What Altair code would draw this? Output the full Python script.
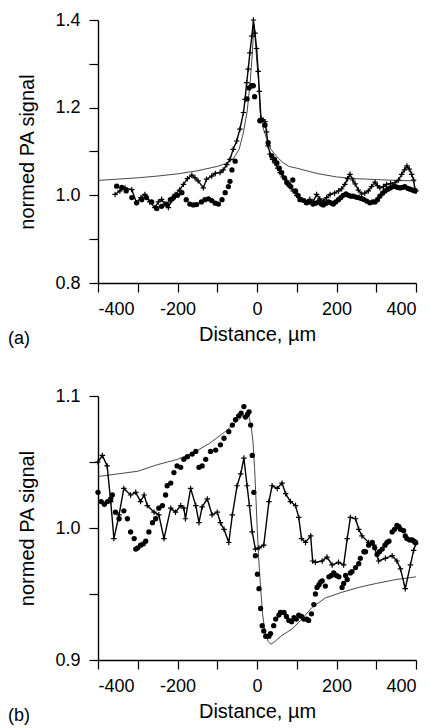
import altair as alt
import pandas as pd

# ---------------- Panel (a) ----------------
a_fit_x = [-400, -350, -300, -250, -200, -150, -100, -80, -60, -45,
           -35, -25, -18, -12, -8, -4, 0, 4, 8, 15,
           24, 35, 50, 65, 80, 100, 150, 200, 250, 300,
           350, 400]
a_fit_y = [1.034, 1.037, 1.040, 1.044, 1.049, 1.056, 1.066, 1.072, 1.083, 1.105,
           1.140, 1.190, 1.250, 1.320, 1.390, 1.350, 1.300, 1.260, 1.190, 1.155,
           1.130, 1.105, 1.088, 1.075, 1.066, 1.062, 1.050, 1.042, 1.038, 1.036,
           1.034, 1.033]

a_cross_x = [-357, -345, -332, -315, -303, -292, -282, -270, -257, -248,
             -240, -232, -223, -215, -206, -195, -185, -175, -164, -156,
             -148, -135, -127, -114, -105, -93, -85, -76, -68, -60,
             -51, -43, -34, -30, -26, -22, -18, -13, -9, -5,
             -1, 3, 6, 10, 15, 20, 24, 28, 33, 39,
             45, 52, 58, 66, 75, 83, 91, 100, 108, 120,
             133, 141, 150, 158, 167, 175, 184, 195, 205, 213,
             221, 228, 234, 241, 247, 255, 263, 271, 280, 288,
             297, 303, 309, 318, 326, 336, 347, 356, 364, 371,
             377, 383, 389, 394, 397, 400]
a_cross_y = [1.002, 1.010, 1.017, 1.013, 0.983, 0.995, 1.002, 0.985, 0.972, 0.985,
             0.991, 0.980, 0.972, 0.988, 1.002, 1.012, 1.025, 1.038, 1.046, 1.040,
             1.033, 1.017, 1.037, 1.044, 1.050, 1.052, 1.058, 1.070, 1.082, 1.105,
             1.124, 1.151, 1.189, 1.219, 1.257, 1.288, 1.325, 1.363, 1.400, 1.370,
             1.335, 1.283, 1.237, 1.175, 1.172, 1.168, 1.145, 1.113, 1.094, 1.082,
             1.074, 1.062, 1.052, 1.042, 1.033, 1.020, 1.010, 1.000, 0.995, 0.985,
             0.991, 0.985, 1.002, 0.992, 0.987, 0.995, 1.002, 1.005, 1.010, 1.015,
             1.025, 1.038, 1.048, 1.035, 1.026, 1.012, 1.003, 1.005, 1.010, 1.020,
             1.030, 1.022, 1.017, 1.020, 1.025, 1.027, 1.029, 1.035, 1.048, 1.058,
             1.067, 1.060, 1.048, 1.035, 1.014, 1.010]

a_dot_x = [-353, -340, -329, -315, -303, -290, -278, -265, -252, -240,
           -227, -218, -210, -200, -189, -178, -169, -160, -152, -140,
           -131, -122, -114, -105, -97, -88, -80, -72, -68, -63,
           -55, -25, -20, -14, -9, -6, 7, 20, 28, 37,
           44, 50, 56, 62, 69, 75, 80, 85, 90, 97,
           103, 108, 118, 125, 133, 141, 148, 155, 162, 167,
           174, 180, 186, 192, 198, 205, 211, 217, 224, 230,
           236, 242, 249, 255, 262, 268, 276, 284, 291, 297,
           303, 309, 316, 322, 329, 335, 342, 348, 354, 360,
           366, 372, 379, 385, 391, 397]
a_dot_y = [1.021, 1.018, 1.010, 0.995, 0.983, 0.990, 0.995, 0.985, 0.970, 0.975,
           0.980, 0.990, 0.995, 1.000, 1.006, 0.990, 0.980, 0.978, 0.979, 0.985,
           0.990, 0.992, 0.988, 0.982, 0.980, 0.990, 1.006, 1.020, 1.032, 1.058,
           1.078, 1.220, 1.245, 1.250, 1.250, 1.225, 1.170, 1.160, 1.120, 1.090,
           1.082, 1.074, 1.062, 1.052, 1.040, 1.029, 1.025, 1.020, 1.035, 1.010,
           1.000, 0.990, 0.988, 0.983, 0.985, 0.980, 0.982, 0.985, 0.980, 0.978,
           0.982, 0.985, 0.983, 0.980, 0.985, 0.990, 0.995, 1.000, 1.003, 1.000,
           0.998, 0.998, 0.996, 0.995, 0.993, 0.991, 0.987, 0.983, 0.985, 0.985,
           0.990, 0.998, 1.005, 1.010, 1.014, 1.017, 1.020, 1.020, 1.018, 1.017,
           1.018, 1.020, 1.016, 1.014, 1.012, 1.010]

# ---------------- Panel (b) ----------------
b_fit_x = [-400, -350, -300, -250, -200, -160, -120, -80, -50, -35,
           -22, -15, -10, -6, -3, 0, 4, 9, 14, 20,
           28, 35, 45, 60, 88, 110, 139, 172, 210, 256,
           300, 350, 400]
b_fit_y = [1.039, 1.041, 1.043, 1.048, 1.052, 1.057, 1.064, 1.073, 1.081, 1.085,
           1.086, 1.078, 1.065, 1.045, 1.025, 1.003, 0.978, 0.955, 0.935, 0.921,
           0.914, 0.912, 0.914, 0.918, 0.9235, 0.930, 0.940, 0.947, 0.951, 0.955,
           0.958, 0.961, 0.963]

b_cross_x = [-400, -389, -377, -368, -360, -347, -335, -318, -305, -293,
             -284, -276, -259, -247, -234, -217, -205, -192, -184, -180,
             -167, -154, -146, -138, -125, -113, -100, -92, -83, -71,
             -62, -50, -41, -33, -25, -19, -12, -4, 5, 17,
             30, 38, 51, 63, 72, 84, 97, 105, 112, 122,
             135, 140, 147, 164, 176, 189, 205, 218, 227, 235,
             248, 256, 264, 281, 294, 306, 323, 340, 352, 361,
             373, 386, 394, 399]
b_cross_y = [1.050, 1.055, 1.047, 1.020, 0.992, 1.010, 1.030, 1.025, 1.027, 1.020,
             1.025, 1.017, 1.012, 1.010, 0.992, 1.015, 1.012, 1.017, 1.015, 1.007,
             1.030, 1.017, 1.004, 1.016, 1.022, 1.010, 1.012, 1.004, 0.999, 0.989,
             1.010, 1.032, 1.041, 1.053, 1.032, 1.017, 0.997, 0.984, 0.985, 0.987,
             1.020, 1.032, 1.030, 1.034, 1.026, 1.020, 1.017, 1.008, 0.992, 0.989,
             0.994, 0.975, 0.974, 0.975, 0.978, 0.972, 0.974, 0.972, 0.992, 1.008,
             1.007, 0.999, 0.994, 0.989, 0.987, 0.975, 0.977, 0.979, 0.975, 0.969,
             0.954, 0.972, 0.983, 0.988]

b_dot_x = [-400, -392, -384, -376, -368, -364, -356, -347, -335, -326,
           -318, -309, -305, -300, -293, -286, -280, -272, -263, -255,
           -247, -238, -230, -226, -217, -209, -201, -192, -184, -175,
           -163, -154, -146, -138, -129, -117, -104, -92, -83, -71,
           -62, -54, -46, -40, -33, -29, -24, -20, -16, -12,
           -8, -4, 1, 5, 9, 13, 17, 22, 30, 34,
           42, 47, 55, 59, 68, 74, 80, 87, 93, 99,
           105, 112, 118, 125, 130, 137, 143, 147, 151, 156,
           160, 164, 172, 181, 187, 193, 200, 206, 214, 218,
           223, 227, 235, 239, 248, 256, 260, 269, 273, 281,
           290, 296, 302, 308, 315, 322, 327, 332, 340, 346,
           352, 357, 361, 369, 373, 377, 384, 390, 395, 399]
b_dot_y = [1.027, 1.020, 1.018, 1.020, 1.022, 1.025, 1.012, 1.007, 1.013, 1.007,
           0.997, 0.992, 0.984, 0.985, 0.987, 0.988, 0.990, 0.997, 1.004, 1.007,
           1.015, 1.017, 1.025, 1.032, 1.034, 1.042, 1.047, 1.046, 1.052, 1.054,
           1.056, 1.058, 1.046, 1.047, 1.052, 1.058, 1.059, 1.063, 1.068, 1.073,
           1.078, 1.082, 1.085, 1.087, 1.092, 1.084, 1.086, 1.088, 1.078, 1.055,
           1.027, 0.979, 0.965, 0.954, 0.939, 0.926, 0.922, 0.918, 0.918, 0.920,
           0.926, 0.931, 0.934, 0.936, 0.936, 0.933, 0.930, 0.929, 0.932, 0.931,
           0.934, 0.933, 0.931, 0.931, 0.930, 0.935, 0.942, 0.950, 0.955, 0.957,
           0.959, 0.960, 0.956, 0.963, 0.964, 0.966, 0.964, 0.963, 0.955, 0.958,
           0.964, 0.961, 0.966, 0.967, 0.970, 0.973, 0.977, 0.982, 0.982, 0.987,
           0.989, 0.985, 0.980, 0.982, 0.984, 0.987, 0.989, 0.990, 0.997, 0.999,
           1.002, 1.001, 0.999, 0.998, 0.994, 0.992, 0.991, 0.991, 0.990, 0.989]

x_ticks = [-400, -300, -200, -100, 0, 100, 200, 300, 400]
a_y_ticks = [0.8, 0.9, 1.0, 1.1, 1.2, 1.3, 1.4]
b_y_ticks = [0.9, 0.95, 1.0, 1.05, 1.1]

FONT = "Liberation Sans"
W, H = 318, 263
CROSS = "M-1,0L1,0M0,-1L0,1"


def df(xs, ys):
    return pd.DataFrame({"x": xs, "y": ys, "i": list(range(len(xs)))})


def panel(fx, fy, cx, cy, dx, dy, ydom, yticks, ylabel_expr, tag, h):
    xs = alt.Scale(domain=[-400, 400], nice=False, zero=False)
    ys = alt.Scale(domain=ydom, nice=False, zero=False)
    xax = alt.Axis(title="Distance, \u00b5m", values=x_ticks,
                   labelExpr="datum.value % 200 == 0 ? replace(datum.label, '\u2212', '-') : ''",
                   tickSize=9, labelPadding=8, titlePadding=6)
    yax = alt.Axis(title="normed PA signal", values=yticks, format=".1f",
                   labelExpr=ylabel_expr, tickSize=9, labelPadding=9,
                   titlePadding=17)
    X = alt.X("x:Q", scale=xs, axis=xax)
    Y = alt.Y("y:Q", scale=ys, axis=yax)

    fit = alt.Chart(df(fx, fy)).mark_line(color="#333333", strokeWidth=0.9).encode(
        x=X, y=Y, order="i:Q")
    cdf = df(cx, cy)
    cline = alt.Chart(cdf).mark_line(color="black", strokeWidth=1.4).encode(
        x=X, y=Y, order="i:Q")
    cpts = alt.Chart(cdf).mark_point(shape=CROSS, size=30, filled=False,
                                     color="black", strokeWidth=1.2,
                                     opacity=1).encode(x=X, y=Y)
    dots = alt.Chart(df(dx, dy)).mark_circle(size=28, color="black",
                                             opacity=1).encode(x=X, y=Y)
    label = alt.Chart(pd.DataFrame({"t": [tag]})).mark_text(
        align="left", baseline="middle", fontSize=18, font=FONT,
        color="black").encode(text="t:N", x=alt.value(-90), y=alt.value(h + 56))
    return alt.layer(fit, cline, cpts, dots, label).properties(width=W, height=h)


pa = panel(a_fit_x, a_fit_y, a_cross_x, a_cross_y, a_dot_x, a_dot_y,
           [0.8, 1.4], a_y_ticks,
           "round(datum.value * 10) % 2 == 0 ? datum.label : ''", "(a)", H)
pb = panel(b_fit_x, b_fit_y, b_cross_x, b_cross_y, b_dot_x, b_dot_y,
           [0.9, 1.1], b_y_ticks,
           "round(datum.value * 100) % 10 == 0 ? datum.label : ''", "(b)", 264)

chart = alt.vconcat(pa, pb, spacing=39).properties(
    padding={"left": 0, "top": 3, "right": 5, "bottom": 0}
).configure_view(stroke=None).configure_axis(
    grid=False,
    labelFont=FONT, titleFont=FONT,
    labelFontSize=18, titleFontSize=20, titleFontWeight="normal",
    labelColor="black", titleColor="black",
    domainColor="black", tickColor="black",
    domainWidth=1.4, tickWidth=1.2,
)

chart.save("out.html", embed_options={"renderer": "svg", "actions": False})
